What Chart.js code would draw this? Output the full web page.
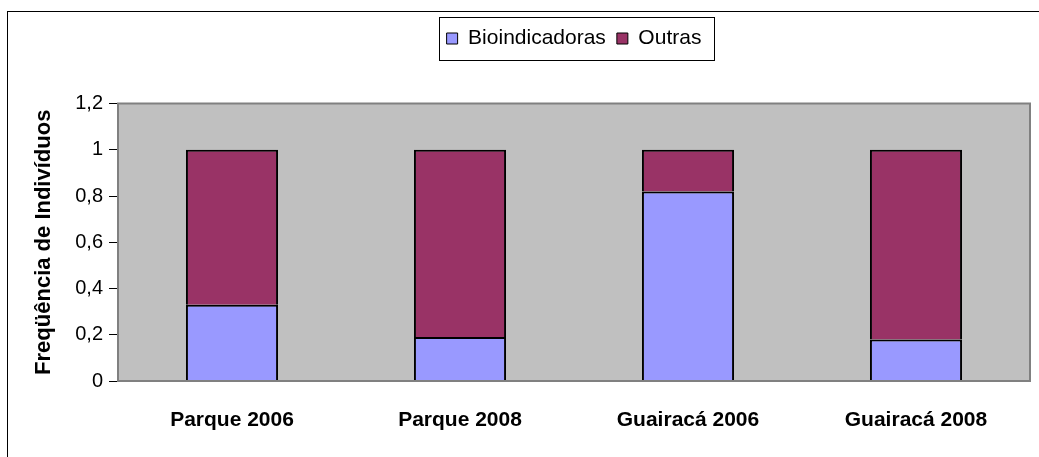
<!DOCTYPE html>
<html>
<head>
<meta charset="utf-8">
<script src="https://cdn.jsdelivr.net/npm/chart.js@4/dist/chart.umd.min.js"></script>
<style>
    html, body { margin: 0; padding: 0; background: #ffffff; overflow: hidden; }
    #wrap { width: 1039px; height: 457px; position: relative; }
</style>
</head>
<body>
<div id="wrap"><canvas id="freqChart" width="1039" height="457"></canvas></div>
<script>
// Chart data
const categories = ['Parque 2006', 'Parque 2008', 'Guairacá 2006', 'Guairacá 2008'];
const bioindicadoras = [0.33, 0.19, 0.82, 0.18];
const outras = [0.67, 0.81, 0.18, 0.82];
const yTickLabels = ['0', '0,2', '0,4', '0,6', '0,8', '1', '1,2'];

// Grey plot area, outer frame and legend frame
const frames = {
    id: 'frames',
    beforeDraw(chart) {
        const ctx = chart.ctx;
        const a = chart.chartArea;
        ctx.save();
        ctx.fillStyle = '#c0c0c0';
        ctx.fillRect(a.left, a.top, a.right - a.left, a.bottom - a.top);
        ctx.strokeStyle = '#000000';
        ctx.lineWidth = 1;
        ctx.strokeRect(7.5, 11.5, 2000, 2000);
        ctx.restore();
    },
    afterDraw(chart) {
        const ctx = chart.ctx;
        const a = chart.chartArea;
        ctx.save();
        ctx.strokeStyle = '#808080';
        ctx.lineWidth = 2;
        ctx.strokeRect(a.left, a.top, a.right - a.left, a.bottom - a.top);
        const hb = chart.legend.legendHitBoxes;
        if (hb && hb.length) {
            const first = hb[0], last = hb[hb.length - 1];
            ctx.strokeStyle = '#000000';
            ctx.lineWidth = 1;
            const l = Math.round(first.left - 8) + 0.5;
            const t = Math.round(first.top - 11) + 0.5;
            const r = Math.round(last.left + last.width + 13) + 0.5;
            const b = Math.round(first.top + first.height + 11) + 0.5;
            ctx.strokeRect(l, t, r - l, b - t);
        }
        ctx.restore();
    }
};

new Chart(document.getElementById('freqChart'), {
    type: 'bar',
    data: {
        labels: categories,
        datasets: [{
            label: 'Bioindicadoras',
            data: bioindicadoras,
            backgroundColor: '#9999ff',
            borderColor: '#000000',
            borderWidth: 2,
            barPercentage: 0.404,
            categoryPercentage: 1
        }, {
            label: 'Outras',
            data: outras,
            backgroundColor: '#993366',
            borderColor: '#000000',
            borderWidth: 2,
            barPercentage: 0.404,
            categoryPercentage: 1
        }]
    },
    options: {
        responsive: false,
        animation: false,
        devicePixelRatio: 1,
        layout: {
            padding: { top: 17, right: 9, bottom: 0, left: 0 }
        },
        plugins: {
            legend: {
                display: true,
                position: 'top',
                fullSize: false,
                labels: {
                    boxWidth: 11,
                    boxHeight: 11,
                    padding: 11,
                    color: '#000000',
                    font: { family: 'Arial, "Liberation Sans", sans-serif', size: 21 },
                    generateLabels(chart) {
                        return chart.data.datasets.map((ds, i) => ({
                            text: ds.label,
                            fillStyle: ds.backgroundColor,
                            strokeStyle: '#000000',
                            lineWidth: 1,
                            datasetIndex: i
                        }));
                    }
                }
            },
            subtitle: {
                display: true,
                text: '',
                weight: 500,
                font: { size: 10, lineHeight: 1.2 },
                padding: { top: 32.5, bottom: 0 }
            },
            tooltip: { enabled: false }
        },
        scales: {
            x: {
                stacked: true,
                grid: { display: false },
                border: { display: false },
                ticks: {
                    color: '#000000',
                    padding: 19,
                    maxRotation: 0,
                    font: { family: 'Arial, "Liberation Sans", sans-serif', size: 21, weight: 'bold' }
                },
                afterFit(scale) { scale.height = 76; }
            },
            y: {
                stacked: true,
                min: 0,
                max: 1.2,
                ticks: {
                    stepSize: 0.2,
                    padding: 6,
                    color: '#000000',
                    font: { family: 'Arial, "Liberation Sans", sans-serif', size: 20 },
                    callback: (value, index) => yTickLabels[index]
                },
                grid: {
                    drawOnChartArea: false,
                    drawTicks: true,
                    tickLength: 9,
                    color: '#000000'
                },
                border: { color: '#808080', width: 2 },
                title: {
                    display: true,
                    text: 'Freqüência de Indivíduos',
                    color: '#000000',
                    font: { family: 'Arial, "Liberation Sans", sans-serif', size: 22, weight: 'bold', lineHeight: 1.2 },
                    padding: { top: 31, bottom: 0 }
                },
                afterFit(scale) { scale.width = 118; }
            }
        }
    },
    plugins: [frames]
});
</script>
</body>
</html>
